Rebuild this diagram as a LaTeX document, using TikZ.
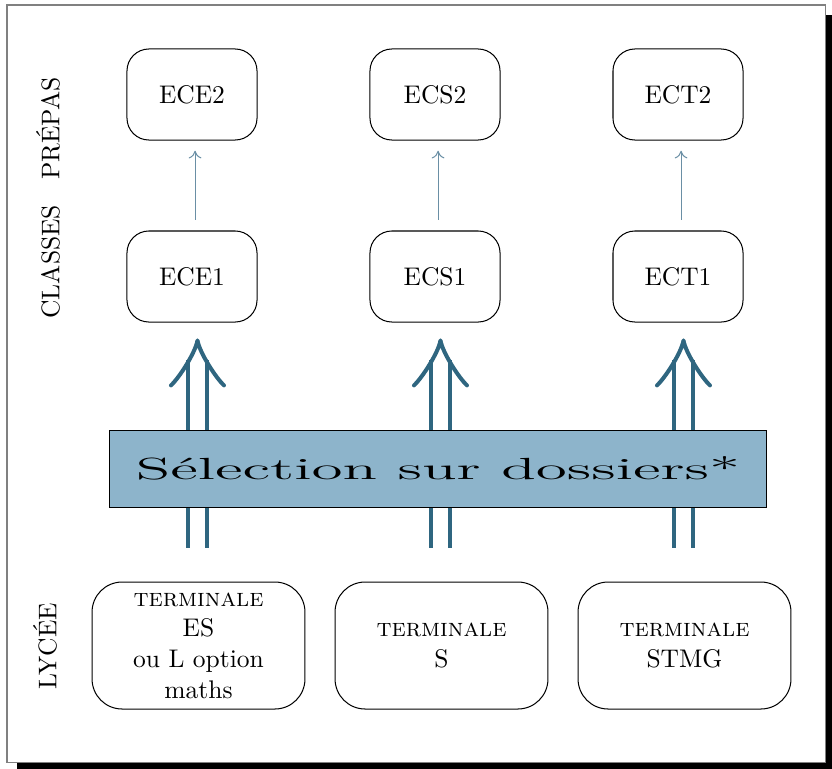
\documentclass[tikz,border=0pt]{standalone}
\usepackage{fontspec}
\usepackage{graphicx}
\usetikzlibrary{arrows.meta,calc}
\definecolor{boxblue}{HTML}{8DB4CB}
\definecolor{arrowblue}{HTML}{2F6680}
\definecolor{thinblue}{HTML}{6A8FA5}
\begin{document}
\begin{tikzpicture}[x=0.39216pt,y=-0.39216pt,
  topbox/.style={draw,rounded corners=8.6pt,minimum width=51pt,minimum height=35.7pt,inner sep=0pt},
  botbox/.style={draw,rounded corners=11.8pt,minimum width=83.5pt,minimum height=49.8pt,inner sep=0pt,align=center},
  selbox/.style={draw,fill=boxblue,minimum width=258pt,minimum height=30.2pt,inner sep=0pt},
  thinarrow/.style={draw=thinblue,-{To[length=3pt,width=5pt]},shorten <=4.3pt,shorten >=4pt},
  bigshaft/.style={draw=arrowblue,line width=1.57pt,double=white,double distance=5.9pt,shorten <=13.3pt,shorten >=7.6pt},
  bighead/.style={draw=arrowblue,line width=1.57pt,line cap=round,line join=round},
  sidelabel/.style={rotate=90,inner sep=0pt}]
\useasboundingbox (0,0) rectangle (832,768);
\fill[black] (17,15) rectangle (835,772);
\draw[gray,fill=white] (7,5) rectangle (825,762);

\node[topbox] (ece2) at (192,94.5) {ECE2};
\node[topbox] (ecs2) at (435,94.5) {ECS2};
\node[topbox] (ect2) at (678,94.5) {ECT2};
\node[topbox] (ece1) at (192,276.5) {ECE1};
\node[topbox] (ecs1) at (435,276.5) {ECS1};
\node[topbox] (ect1) at (678,276.5) {ECT1};

\node[botbox] (tes) at (198.5,645.5) {\textsc{terminale}\\ES\\ou L option\\maths};
\node[botbox] (ts) at (441.5,645.5) {\textsc{terminale}\\S};
\node[botbox] (tstmg) at (684.5,645.5) {\textsc{terminale}\\STMG};

\draw[thinarrow] ([xshift=1.2pt]ece1.north) -- ([xshift=1.2pt]ece2.south);
\draw[thinarrow] ([xshift=1.2pt]ecs1.north) -- ([xshift=1.2pt]ecs2.south);
\draw[thinarrow] ([xshift=1.2pt]ect1.north) -- ([xshift=1.2pt]ect2.south);

\foreach \b/\t/\h in {tes/ece1/hA, ts/ecs1/hB, tstmg/ect1/hC}{
  \coordinate (\h) at ([xshift=-0.4pt,yshift=-7pt]\b.north |- \t.south);
  \draw[bigshaft] ([xshift=-0.4pt]\b.north) -- (\h);
  \draw[bighead] ($(\h)+(-26.5,45)$) .. controls ($(\h)+(-18,37)$) and ($(\h)+(-2,12)$) .. (\h)
     .. controls ($(\h)+(2,12)$) and ($(\h)+(18,37)$) .. ($(\h)+(26.5,45)$);
}

\node[selbox] (sel) at (438,468.5) {\scalebox{2.07}[1]{\large Sélection sur dossiers*}};

\node[sidelabel] (lycee) at (45,646) {LYCÉE};
\node[sidelabel] (prepas) at (48,198) {CLASSES\quad PRÉPAS};
\end{tikzpicture}
\end{document}
